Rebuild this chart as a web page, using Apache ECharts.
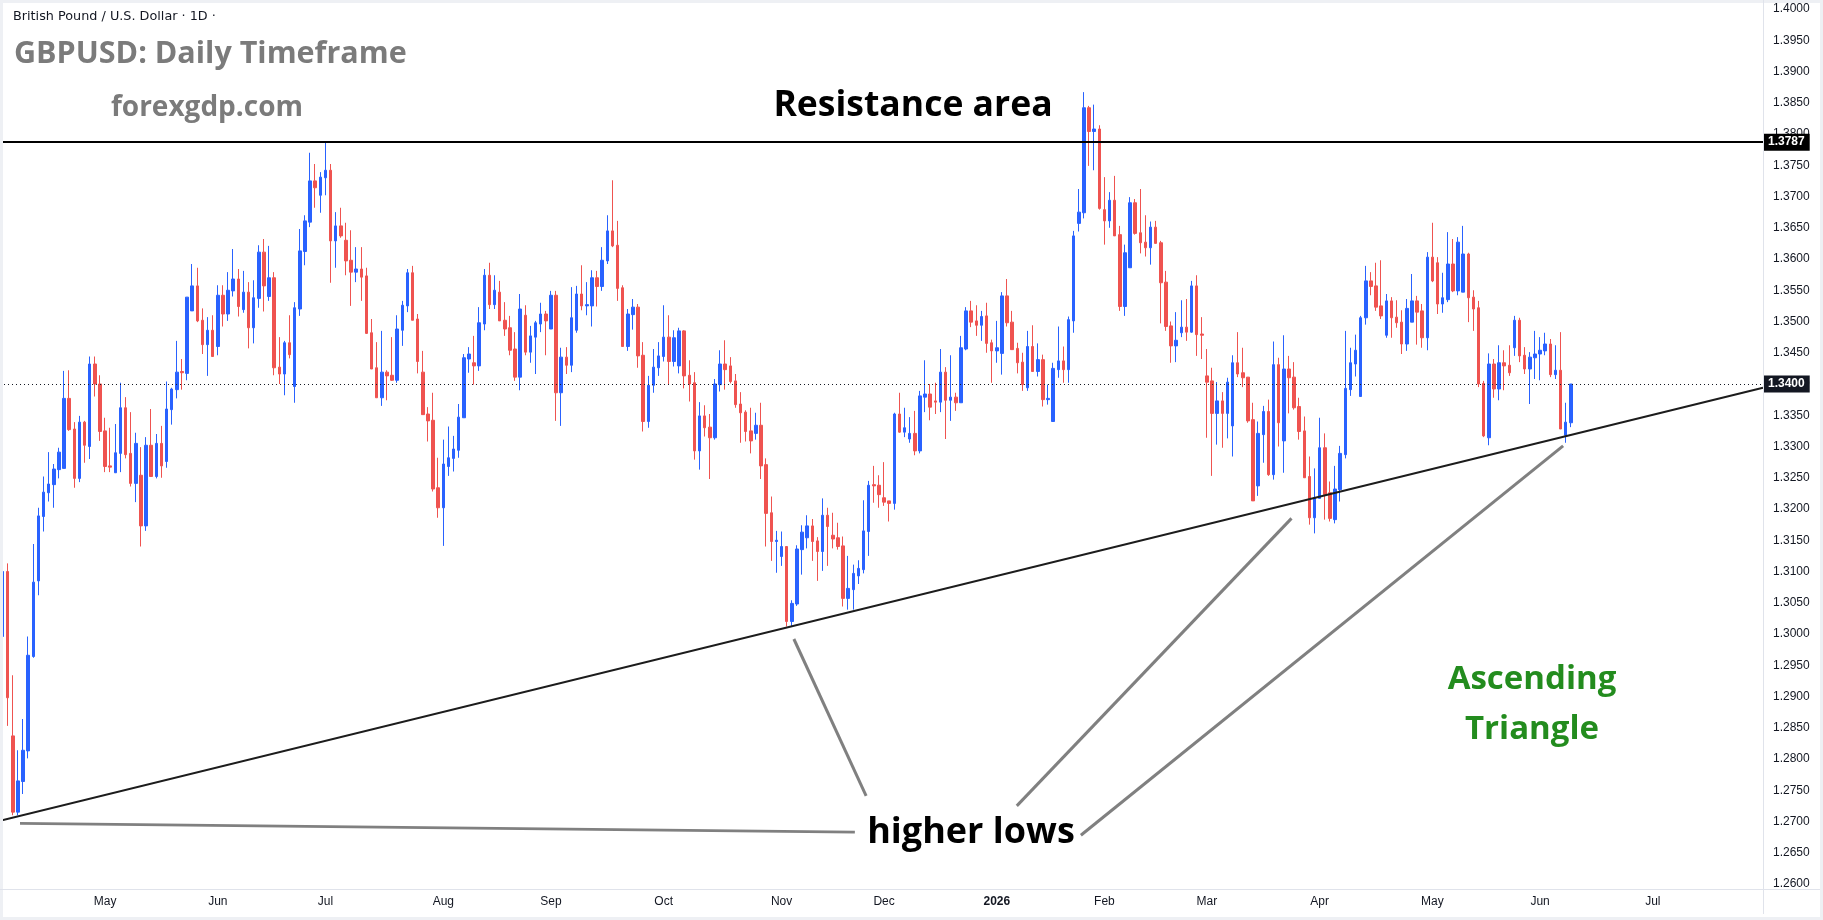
<!DOCTYPE html>
<html>
<head>
<meta charset="utf-8">
<title>GBPUSD Daily Timeframe</title>
<script src="https://cdn.jsdelivr.net/npm/echarts@6/dist/echarts.min.js"></script>
<style>
  html, body { margin: 0; padding: 0; background: #fff; }
  #chart { width: 1823px; height: 920px; }
</style>
</head>
<body>
<div id="chart"></div>
<script>
// one candle per trading day from 2025-04-03: [open, close, low, high]
const candles = [
  [1.2996, 1.3100, 1.2996, 1.3100], [1.3100, 1.2898, 1.2853, 1.3113], [1.2837, 1.2715, 1.2710, 1.2934], [1.2715, 1.2765, 1.2710, 1.2814], [1.2764, 1.2814, 1.2744, 1.2864],
  [1.2813, 1.2966, 1.2801, 1.2996], [1.2964, 1.3083, 1.2962, 1.3144], [1.3085, 1.3189, 1.3062, 1.3202], [1.3188, 1.3227, 1.3164, 1.3252], [1.3226, 1.3240, 1.3212, 1.3291],
  [1.3239, 1.3264, 1.3202, 1.3272], [1.3263, 1.3291, 1.3249, 1.3298], [1.3265, 1.3377, 1.3265, 1.3421], [1.3377, 1.3327, 1.3325, 1.3422], [1.3328, 1.3249, 1.3234, 1.3339],
  [1.3249, 1.3339, 1.3243, 1.3349], [1.3339, 1.3302, 1.3274, 1.3341], [1.3300, 1.3432, 1.3280, 1.3444], [1.3432, 1.3400, 1.3380, 1.3444], [1.3400, 1.3324, 1.3309, 1.3414],
  [1.3325, 1.3268, 1.3259, 1.3346], [1.3269, 1.3267, 1.3259, 1.3330], [1.3258, 1.3290, 1.3258, 1.3336], [1.3289, 1.3362, 1.3259, 1.3402], [1.3362, 1.3287, 1.3281, 1.3379],
  [1.3289, 1.3241, 1.3236, 1.3355], [1.3241, 1.3305, 1.3211, 1.3322], [1.3254, 1.3173, 1.3140, 1.3299], [1.3173, 1.3302, 1.3165, 1.3315], [1.3302, 1.3252, 1.3252, 1.3360],
  [1.3252, 1.3305, 1.3249, 1.3320], [1.3305, 1.3269, 1.3250, 1.3333], [1.3276, 1.3360, 1.3266, 1.3404], [1.3359, 1.3392, 1.3335, 1.3394], [1.3391, 1.3419, 1.3377, 1.3469],
  [1.3420, 1.3418, 1.3391, 1.3440], [1.3417, 1.3539, 1.3406, 1.3539], [1.3517, 1.3557, 1.3517, 1.3592], [1.3557, 1.3501, 1.3499, 1.3586], [1.3502, 1.3463, 1.3448, 1.3521],
  [1.3463, 1.3486, 1.3413, 1.3507], [1.3486, 1.3444, 1.3444, 1.3510], [1.3460, 1.3542, 1.3446, 1.3558], [1.3542, 1.3512, 1.3492, 1.3558], [1.3512, 1.3550, 1.3501, 1.3579],
  [1.3549, 1.3568, 1.3540, 1.3616], [1.3568, 1.3524, 1.3508, 1.3584], [1.3519, 1.3547, 1.3514, 1.3581], [1.3547, 1.3490, 1.3457, 1.3563], [1.3490, 1.3538, 1.3465, 1.3566],
  [1.3537, 1.3611, 1.3522, 1.3622], [1.3611, 1.3557, 1.3516, 1.3632], [1.3540, 1.3570, 1.3533, 1.3621], [1.3570, 1.3426, 1.3414, 1.3579], [1.3427, 1.3416, 1.3400, 1.3475],
  [1.3416, 1.3466, 1.3382, 1.3469], [1.3466, 1.3447, 1.3441, 1.3510], [1.3396, 1.3522, 1.3370, 1.3531], [1.3520, 1.3613, 1.3509, 1.3648], [1.3612, 1.3661, 1.3590, 1.3670],
  [1.3659, 1.3725, 1.3651, 1.3770], [1.3725, 1.3714, 1.3682, 1.3752], [1.3702, 1.3731, 1.3674, 1.3739], [1.3730, 1.3742, 1.3702, 1.3787], [1.3742, 1.3629, 1.3562, 1.3752],
  [1.3629, 1.3653, 1.3586, 1.3675], [1.3653, 1.3637, 1.3634, 1.3682], [1.3630, 1.3597, 1.3574, 1.3658], [1.3598, 1.3579, 1.3525, 1.3646], [1.3579, 1.3584, 1.3563, 1.3619],
  [1.3584, 1.3571, 1.3533, 1.3619], [1.3573, 1.3481, 1.3480, 1.3586], [1.3482, 1.3424, 1.3424, 1.3504], [1.3426, 1.3378, 1.3378, 1.3467], [1.3378, 1.3419, 1.3365, 1.3485],
  [1.3419, 1.3413, 1.3374, 1.3422], [1.3414, 1.3406, 1.3405, 1.3475], [1.3406, 1.3488, 1.3402, 1.3510], [1.3486, 1.3526, 1.3461, 1.3533], [1.3525, 1.3578, 1.3515, 1.3584],
  [1.3578, 1.3502, 1.3502, 1.3589], [1.3504, 1.3436, 1.3417, 1.3512], [1.3419, 1.3351, 1.3351, 1.3453], [1.3352, 1.3341, 1.3308, 1.3363], [1.3342, 1.3232, 1.3228, 1.3386],
  [1.3234, 1.3202, 1.3186, 1.3282], [1.3202, 1.3272, 1.3141, 1.3311], [1.3268, 1.3282, 1.3253, 1.3332], [1.3281, 1.3296, 1.3260, 1.3317], [1.3294, 1.3347, 1.3282, 1.3368],
  [1.3346, 1.3442, 1.3346, 1.3448], [1.3440, 1.3448, 1.3418, 1.3459], [1.3434, 1.3429, 1.3399, 1.3477], [1.3429, 1.3498, 1.3421, 1.3523], [1.3496, 1.3574, 1.3486, 1.3584],
  [1.3574, 1.3527, 1.3520, 1.3594], [1.3527, 1.3550, 1.3520, 1.3574], [1.3547, 1.3501, 1.3501, 1.3565], [1.3502, 1.3488, 1.3477, 1.3531], [1.3490, 1.3454, 1.3446, 1.3509],
  [1.3456, 1.3411, 1.3405, 1.3483], [1.3411, 1.3520, 1.3390, 1.3544], [1.3510, 1.3451, 1.3446, 1.3526], [1.3451, 1.3477, 1.3434, 1.3493], [1.3475, 1.3498, 1.3416, 1.3501],
  [1.3496, 1.3512, 1.3483, 1.3530], [1.3512, 1.3501, 1.3446, 1.3517], [1.3488, 1.3542, 1.3488, 1.3549], [1.3542, 1.3386, 1.3341, 1.3549], [1.3386, 1.3443, 1.3333, 1.3458],
  [1.3443, 1.3430, 1.3416, 1.3459], [1.3430, 1.3506, 1.3419, 1.3555], [1.3486, 1.3544, 1.3482, 1.3557], [1.3544, 1.3525, 1.3518, 1.3590], [1.3525, 1.3527, 1.3510, 1.3563],
  [1.3525, 1.3570, 1.3492, 1.3582], [1.3570, 1.3556, 1.3524, 1.3581], [1.3556, 1.3598, 1.3549, 1.3619], [1.3597, 1.3645, 1.3592, 1.3670], [1.3645, 1.3621, 1.3619, 1.3726],
  [1.3622, 1.3553, 1.3533, 1.3661], [1.3554, 1.3460, 1.3460, 1.3558], [1.3460, 1.3512, 1.3453, 1.3520], [1.3511, 1.3523, 1.3487, 1.3536], [1.3523, 1.3445, 1.3426, 1.3528],
  [1.3446, 1.3340, 1.3324, 1.3467], [1.3340, 1.3398, 1.3330, 1.3413], [1.3398, 1.3427, 1.3386, 1.3456], [1.3426, 1.3445, 1.3413, 1.3467], [1.3444, 1.3475, 1.3436, 1.3526],
  [1.3475, 1.3436, 1.3400, 1.3510], [1.3436, 1.3474, 1.3428, 1.3486], [1.3429, 1.3485, 1.3417, 1.3490], [1.3485, 1.3413, 1.3393, 1.3486], [1.3414, 1.3400, 1.3372, 1.3438],
  [1.3402, 1.3293, 1.3279, 1.3419], [1.3293, 1.3349, 1.3263, 1.3371], [1.3349, 1.3330, 1.3316, 1.3366], [1.3331, 1.3314, 1.3248, 1.3352], [1.3314, 1.3400, 1.3311, 1.3408],
  [1.3399, 1.3432, 1.3388, 1.3454], [1.3432, 1.3423, 1.3391, 1.3470], [1.3429, 1.3404, 1.3401, 1.3443], [1.3405, 1.3367, 1.3362, 1.3416], [1.3368, 1.3354, 1.3306, 1.3387],
  [1.3355, 1.3324, 1.3308, 1.3358], [1.3325, 1.3309, 1.3289, 1.3362], [1.3321, 1.3334, 1.3311, 1.3354], [1.3334, 1.3269, 1.3248, 1.3370], [1.3271, 1.3193, 1.3140, 1.3281],
  [1.3194, 1.3148, 1.3117, 1.3220], [1.3148, 1.3150, 1.3098, 1.3165], [1.3124, 1.3140, 1.3109, 1.3164], [1.3140, 1.3020, 1.3012, 1.3140], [1.3020, 1.3049, 1.3012, 1.3054],
  [1.3048, 1.3136, 1.3045, 1.3142], [1.3135, 1.3163, 1.3095, 1.3174], [1.3154, 1.3173, 1.3137, 1.3190], [1.3173, 1.3148, 1.3117, 1.3184], [1.3149, 1.3132, 1.3085, 1.3155],
  [1.3132, 1.3190, 1.3101, 1.3217], [1.3190, 1.3172, 1.3109, 1.3202], [1.3158, 1.3152, 1.3137, 1.3194], [1.3154, 1.3140, 1.3135, 1.3178], [1.3141, 1.3057, 1.3044, 1.3156],
  [1.3057, 1.3073, 1.3039, 1.3125], [1.3071, 1.3097, 1.3039, 1.3111], [1.3093, 1.3105, 1.3080, 1.3118], [1.3103, 1.3165, 1.3097, 1.3214], [1.3164, 1.3238, 1.3125, 1.3245],
  [1.3239, 1.3237, 1.3210, 1.3269], [1.3238, 1.3223, 1.3202, 1.3254], [1.3218, 1.3211, 1.3205, 1.3275], [1.3213, 1.3209, 1.3180, 1.3213], [1.3209, 1.3352, 1.3199, 1.3354],
  [1.3352, 1.3323, 1.3322, 1.3386], [1.3323, 1.3330, 1.3315, 1.3362], [1.3312, 1.3321, 1.3306, 1.3347], [1.3321, 1.3293, 1.3286, 1.3357], [1.3293, 1.3381, 1.3289, 1.3389],
  [1.3379, 1.3384, 1.3355, 1.3438], [1.3384, 1.3363, 1.3342, 1.3400], [1.3373, 1.3371, 1.3352, 1.3402], [1.3371, 1.3419, 1.3355, 1.3456], [1.3419, 1.3374, 1.3312, 1.3427],
  [1.3374, 1.3379, 1.3341, 1.3446], [1.3379, 1.3370, 1.3357, 1.3386], [1.3370, 1.3458, 1.3370, 1.3477], [1.3456, 1.3517, 1.3454, 1.3523], [1.3517, 1.3499, 1.3491, 1.3533],
  [1.3501, 1.3494, 1.3477, 1.3526], [1.3494, 1.3508, 1.3469, 1.3517], [1.3509, 1.3465, 1.3450, 1.3530], [1.3466, 1.3453, 1.3402, 1.3471], [1.3453, 1.3458, 1.3434, 1.3501],
  [1.3449, 1.3541, 1.3415, 1.3547], [1.3541, 1.3498, 1.3492, 1.3568], [1.3499, 1.3455, 1.3455, 1.3517], [1.3457, 1.3434, 1.3417, 1.3466], [1.3435, 1.3399, 1.3389, 1.3450],
  [1.3394, 1.3460, 1.3389, 1.3485], [1.3460, 1.3420, 1.3420, 1.3494], [1.3420, 1.3439, 1.3412, 1.3465], [1.3439, 1.3375, 1.3364, 1.3447], [1.3375, 1.3377, 1.3367, 1.3399],
  [1.3340, 1.3425, 1.3340, 1.3434], [1.3423, 1.3437, 1.3410, 1.3492], [1.3437, 1.3423, 1.3402, 1.3460], [1.3423, 1.3503, 1.3402, 1.3508], [1.3501, 1.3637, 1.3482, 1.3645],
  [1.3657, 1.3675, 1.3644, 1.3712], [1.3674, 1.3842, 1.3665, 1.3867], [1.3842, 1.3804, 1.3749, 1.3845], [1.3804, 1.3808, 1.3742, 1.3847], [1.3808, 1.3681, 1.3679, 1.3814],
  [1.3679, 1.3661, 1.3623, 1.3731], [1.3661, 1.3694, 1.3650, 1.3707], [1.3694, 1.3637, 1.3637, 1.3733], [1.3639, 1.3524, 1.3517, 1.3653], [1.3524, 1.3610, 1.3509, 1.3623],
  [1.3586, 1.3690, 1.3586, 1.3699], [1.3690, 1.3641, 1.3639, 1.3696], [1.3642, 1.3626, 1.3609, 1.3712], [1.3627, 1.3618, 1.3604, 1.3670], [1.3618, 1.3651, 1.3591, 1.3660],
  [1.3651, 1.3625, 1.3625, 1.3661], [1.3626, 1.3562, 1.3497, 1.3629], [1.3563, 1.3492, 1.3485, 1.3581], [1.3493, 1.3461, 1.3434, 1.3500], [1.3461, 1.3470, 1.3435, 1.3515],
  [1.3482, 1.3491, 1.3475, 1.3534], [1.3491, 1.3483, 1.3469, 1.3536], [1.3483, 1.3557, 1.3482, 1.3565], [1.3557, 1.3479, 1.3445, 1.3574], [1.3480, 1.3478, 1.3440, 1.3507],
  [1.3413, 1.3403, 1.3314, 1.3456], [1.3405, 1.3353, 1.3253, 1.3426], [1.3353, 1.3373, 1.3303, 1.3403], [1.3373, 1.3353, 1.3298, 1.3387], [1.3353, 1.3403, 1.3313, 1.3410],
  [1.3333, 1.3434, 1.3284, 1.3446], [1.3434, 1.3416, 1.3411, 1.3483], [1.3418, 1.3410, 1.3395, 1.3458], [1.3411, 1.3341, 1.3338, 1.3411], [1.3343, 1.3213, 1.3213, 1.3370],
  [1.3237, 1.3321, 1.3221, 1.3340], [1.3319, 1.3356, 1.3274, 1.3365], [1.3356, 1.3255, 1.3253, 1.3375], [1.3255, 1.3431, 1.3247, 1.3468], [1.3431, 1.3338, 1.3300, 1.3442],
  [1.3309, 1.3424, 1.3258, 1.3478], [1.3424, 1.3410, 1.3353, 1.3445], [1.3411, 1.3362, 1.3359, 1.3435], [1.3364, 1.3324, 1.3311, 1.3378], [1.3325, 1.3250, 1.3250, 1.3348],
  [1.3252, 1.3186, 1.3175, 1.3284], [1.3186, 1.3218, 1.3161, 1.3265], [1.3217, 1.3298, 1.3217, 1.3346], [1.3298, 1.3223, 1.3183, 1.3321], [1.3226, 1.3185, 1.3180, 1.3244],
  [1.3183, 1.3232, 1.3177, 1.3269], [1.3231, 1.3289, 1.3212, 1.3301], [1.3287, 1.3393, 1.3281, 1.3485], [1.3391, 1.3434, 1.3381, 1.3458], [1.3432, 1.3454, 1.3412, 1.3479],
  [1.3380, 1.3506, 1.3380, 1.3509], [1.3506, 1.3565, 1.3495, 1.3589], [1.3565, 1.3556, 1.3542, 1.3579], [1.3557, 1.3523, 1.3517, 1.3594], [1.3525, 1.3509, 1.3504, 1.3598],
  [1.3478, 1.3533, 1.3474, 1.3544], [1.3533, 1.3506, 1.3474, 1.3539], [1.3507, 1.3498, 1.3490, 1.3534], [1.3499, 1.3464, 1.3448, 1.3518], [1.3464, 1.3521, 1.3453, 1.3536],
  [1.3499, 1.3533, 1.3499, 1.3576], [1.3533, 1.3515, 1.3463, 1.3541], [1.3517, 1.3474, 1.3458, 1.3528], [1.3474, 1.3603, 1.3454, 1.3611], [1.3603, 1.3565, 1.3563, 1.3658],
  [1.3594, 1.3528, 1.3512, 1.3603], [1.3528, 1.3538, 1.3514, 1.3578], [1.3535, 1.3592, 1.3531, 1.3643], [1.3592, 1.3549, 1.3547, 1.3632], [1.3549, 1.3627, 1.3542, 1.3635],
  [1.3547, 1.3608, 1.3547, 1.3653], [1.3608, 1.3538, 1.3499, 1.3610], [1.3539, 1.3520, 1.3485, 1.3550], [1.3522, 1.3400, 1.3395, 1.3533], [1.3401, 1.3317, 1.3315, 1.3405],
  [1.3314, 1.3432, 1.3302, 1.3449], [1.3432, 1.3392, 1.3378, 1.3440], [1.3392, 1.3434, 1.3374, 1.3462], [1.3434, 1.3429, 1.3390, 1.3454], [1.3430, 1.3418, 1.3413, 1.3462],
  [1.3458, 1.3502, 1.3445, 1.3509], [1.3502, 1.3445, 1.3435, 1.3506], [1.3446, 1.3424, 1.3416, 1.3459], [1.3424, 1.3443, 1.3368, 1.3451], [1.3442, 1.3448, 1.3408, 1.3485],
  [1.3448, 1.3454, 1.3406, 1.3475], [1.3453, 1.3464, 1.3446, 1.3482], [1.3464, 1.3415, 1.3411, 1.3472], [1.3415, 1.3422, 1.3408, 1.3462], [1.3422, 1.3328, 1.3328, 1.3483],
  [1.3318, 1.3339, 1.3306, 1.3370], [1.3338, 1.3400, 1.3331, 1.3400]
];

// calendar: weekdays from the first candle, with market closures, plus empty room to the right
const firstDay = [2025, 3, 3];
const closedDays = ['2025-12-25', '2026-01-01'];
const slotCount = 344;
const monthNames = ['2026', 'Feb', 'Mar', 'Apr', 'May', 'Jun', 'Jul', 'Aug', 'Sep', 'Oct', 'Nov', 'Dec'];

// price scale
const priceMin = 1.26;
const priceMax = 1.40;
const priceStep = 0.005;

// drawn levels and lines, as [slot index, price]
const resistanceLevel = 1.3787;
const lastClose = 1.3400;
const trendLine = [[-0.5, 1.2701], [343.5, 1.3394]];
const baseStroke = [[3.4, 1.2697], [166.3, 1.2683]];
const pointerNov = [[154.4, 1.2992], [168.5, 1.2741]];
const pointerApr = [[197.9, 1.2725], [251.5, 1.3185]];
const pointerJun = [[210.4, 1.2678], [304.5, 1.3301]];

const dates = [];
const d = new Date(Date.UTC(firstDay[0], firstDay[1], firstDay[2]));
while (dates.length < slotCount) {
  const s = d.toISOString().slice(0, 10);
  const dow = d.getUTCDay();
  if (dow !== 0 && dow !== 6 && closedDays.indexOf(s) < 0) dates.push(s);
  d.setUTCDate(d.getUTCDate() + 1);
}
const monthStart = dates.map((s, i) => i > 0 && s.slice(5, 7) !== dates[i - 1].slice(5, 7));

const chart = echarts.init(document.getElementById('chart'));

const annoFont = '"Open Sans", "Noto Sans", sans-serif';
const axisFont = '"Liberation Sans", Arial, sans-serif';

function pointer(data) {
  return {
    type: 'line', xAxisIndex: 1, yAxisIndex: 0, data: data,
    symbol: 'none', silent: true, z: 4,
    lineStyle: { color: '#808080', width: 3 }
  };
}

function priceTag(value, bg) {
  return {
    position: 'end', distance: 0, formatter: value.toFixed(4),
    backgroundColor: bg, color: '#ffffff', padding: [3, 5, 2, 5],
    fontFamily: axisFont, fontSize: 12, fontWeight: 'bold'
  };
}

chart.setOption({
  animation: false,
  backgroundColor: '#ffffff',
  grid: { left: 0, right: 60, top: 9, bottom: 36 },
  xAxis: [
    {
      type: 'category',
      data: dates,
      axisLine: { show: false },
      axisTick: { show: false },
      splitLine: { show: false },
      axisLabel: {
        margin: 12,
        interval: (i) => monthStart[i],
        color: '#131722',
        fontFamily: axisFont,
        fontSize: 12,
        formatter: (v) => {
          const m = parseInt(v.slice(5, 7), 10) - 1;
          return m === 0 ? '{y|' + v.slice(0, 4) + '}' : monthNames[m];
        },
        rich: { y: { fontWeight: 'bold', fontSize: 12, fontFamily: axisFont, color: '#131722' } }
      }
    },
    { type: 'value', min: -0.5, max: slotCount - 0.5, show: false }
  ],
  yAxis: {
    type: 'value',
    position: 'right',
    min: priceMin,
    max: priceMax,
    interval: priceStep,
    axisLine: { show: false },
    axisTick: { show: false },
    splitLine: { show: false },
    axisLabel: {
      margin: 10,
      color: '#131722',
      fontFamily: axisFont,
      fontSize: 12,
      formatter: (v) => v.toFixed(4)
    }
  },
  series: [
    {
      type: 'candlestick',
      data: candles,
      barWidth: 3,
      itemStyle: {
        color: '#2962ff',
        color0: '#ef5350',
        borderColor: '#2962ff',
        borderColor0: '#ef5350',
        borderWidth: 1
      },
      markLine: {
        silent: true,
        precision: 4,
        symbol: ['none', 'none'],
        data: [
          {
            yAxis: resistanceLevel,
            lineStyle: { color: '#000000', width: 2, type: 'solid' },
            label: priceTag(resistanceLevel, '#000000')
          },
          {
            yAxis: lastClose,
            lineStyle: { color: '#131722', width: 1, type: [1, 3] },
            label: priceTag(lastClose, '#131722')
          }
        ]
      }
    },
    {
      type: 'line', xAxisIndex: 1, yAxisIndex: 0, data: trendLine,
      symbol: 'none', silent: true, z: 5,
      lineStyle: { color: '#1c1c1c', width: 2 }
    },
    pointer(baseStroke),
    pointer(pointerNov),
    pointer(pointerApr),
    pointer(pointerJun)
  ],
  graphic: [
    // screenshot frame and pane separators
    { type: 'rect', z: 100, silent: true, shape: { x: 0, y: 0, width: 1823, height: 920 },
      style: { fill: 'none', stroke: '#eef0f4', lineWidth: 6 } },
    { type: 'line', z: 100, silent: true, shape: { x1: 1763.5, y1: 0, x2: 1763.5, y2: 914 },
      style: { stroke: '#e0e3eb', lineWidth: 1 } },
    { type: 'line', z: 100, silent: true, shape: { x1: 0, y1: 889.5, x2: 1820, y2: 889.5 },
      style: { stroke: '#e0e3eb', lineWidth: 1 } },
    // titles
    { type: 'text', z: 101, left: 13, top: 10,
      style: { text: 'British Pound / U.S. Dollar · 1D ·', fill: '#131722', font: '12.8px "DejaVu Sans", sans-serif' } },
    { type: 'text', z: 101, x: 14, y: 54,
      style: { text: 'GBPUSD: Daily Timeframe', fill: '#7b7b7b', font: 'bold 30.5px ' + annoFont, verticalAlign: 'middle' } },
    { type: 'text', z: 101, x: 207, y: 108,
      style: { text: 'forexgdp.com', fill: '#7b7b7b', font: 'bold 28px ' + annoFont, align: 'center', verticalAlign: 'middle' } },
    // annotations
    { type: 'text', z: 101, x: 913, y: 106,
      style: { text: 'Resistance area', fill: '#000000', font: 'bold 35.5px ' + annoFont, align: 'center', verticalAlign: 'middle' } },
    { type: 'text', z: 101, x: 971, y: 833,
      style: { text: 'higher lows', fill: '#000000', font: 'bold 36px ' + annoFont, align: 'center', verticalAlign: 'middle' } },
    { type: 'text', z: 101, x: 1532, y: 680,
      style: { text: 'Ascending', fill: '#238c1e', font: 'bold 33px ' + annoFont, align: 'center', verticalAlign: 'middle' } },
    { type: 'text', z: 101, x: 1532, y: 730,
      style: { text: 'Triangle', fill: '#238c1e', font: 'bold 33px ' + annoFont, align: 'center', verticalAlign: 'middle' } }
  ]
});
</script>
</body>
</html>
